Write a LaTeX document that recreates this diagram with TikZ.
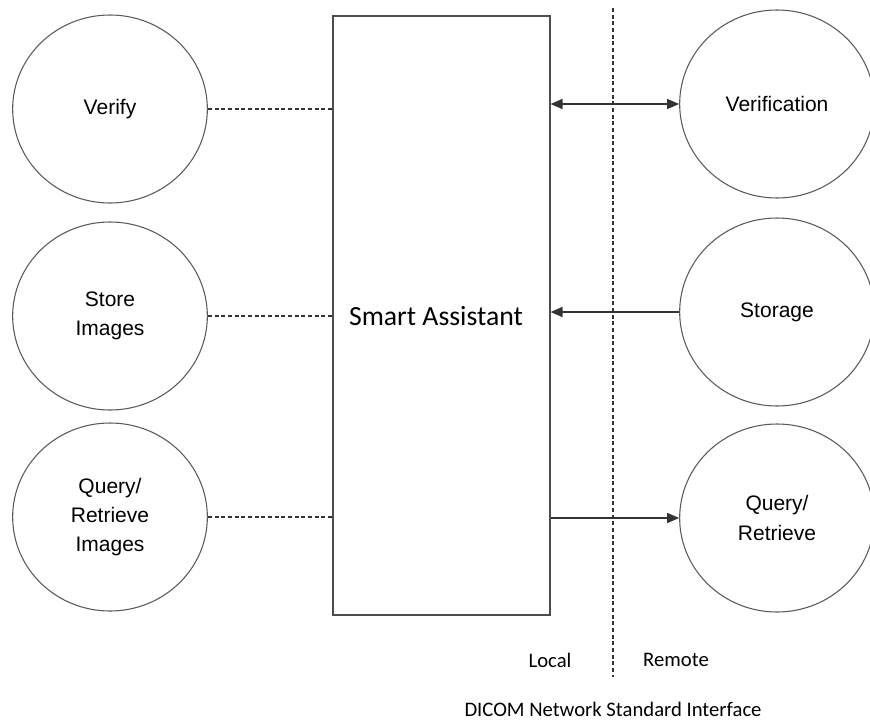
\documentclass[tikz,border=0pt]{standalone}
\usepackage{fontspec}
\setmainfont{Liberation Sans}
\newfontfamily\calibri{Carlito}
\usetikzlibrary{arrows.meta,shapes.geometric}

\begin{document}
\begin{tikzpicture}[x=0.75pt, y=-0.75pt,
    svc/.style={ellipse, draw=black!65, line width=0.8pt, minimum width=146pt,
      minimum height=141pt, inner sep=0pt, align=center,
      font=\fontsize{15.75}{22}\selectfont},
    lbl/.style={font=\calibri\fontsize{15.5}{18}\selectfont},
    link/.style={draw=black!80, line width=0.8pt, dash pattern=on 3pt off 2pt},
    msg/.style={draw=black!80, line width=1pt, -{Triangle[length=9pt, width=7.5pt]}}]
  \useasboundingbox (0,0) rectangle (870,721);

  % local services
  \node[svc] (verify) at (110,109) {Verify};
  \node[svc] (store) at (110,316) {Store\\Images};
  \node[svc] (qrimg) at (110,517) {Query/\\Retrieve\\Images};

  % assistant
  \node[draw=black!70, line width=0.9pt, minimum width=162.75pt, minimum height=449.25pt,
    inner sep=0pt] (sa) at (441.5,315.5) {};
  \node[font=\calibri\fontsize{20.8}{24}\selectfont] (satext) at (436,316) {Smart Assistant};

  % remote services
  \node[svc] (verif) at (777,104) {Verification};
  \node[svc] (storage) at (777,312) {Storage};
  \node[svc] (qr) at (777,518) {Query/\\Retrieve};

  % local / remote border
  \coordinate (bordtop) at (613,8);
  \coordinate (bordbot) at (613,677);
  \draw[link] (bordtop) -- (bordbot);

  \draw[link] (verify.east) -- (sa.west |- verify.east);
  \draw[link] (store.east) -- (sa.west |- store.east);
  \draw[link] (qrimg.east) -- (sa.west |- qrimg.east);

  \draw[msg, {Triangle[length=9pt, width=7.5pt]}-{Triangle[length=9pt, width=7.5pt]}]
    (sa.east |- verif.west) -- (verif.west);
  \draw[msg] (storage.west) -- (sa.east |- storage.west);
  \draw[msg] (sa.east |- qr.west) -- (qr.west);

  \node[lbl] (local) at (550,660) {Local};
  \node[lbl] (remote) at (676,660) {Remote};
  \node[lbl] (dicom) at (613,709) {DICOM Network Standard Interface};
\end{tikzpicture}
\end{document}
